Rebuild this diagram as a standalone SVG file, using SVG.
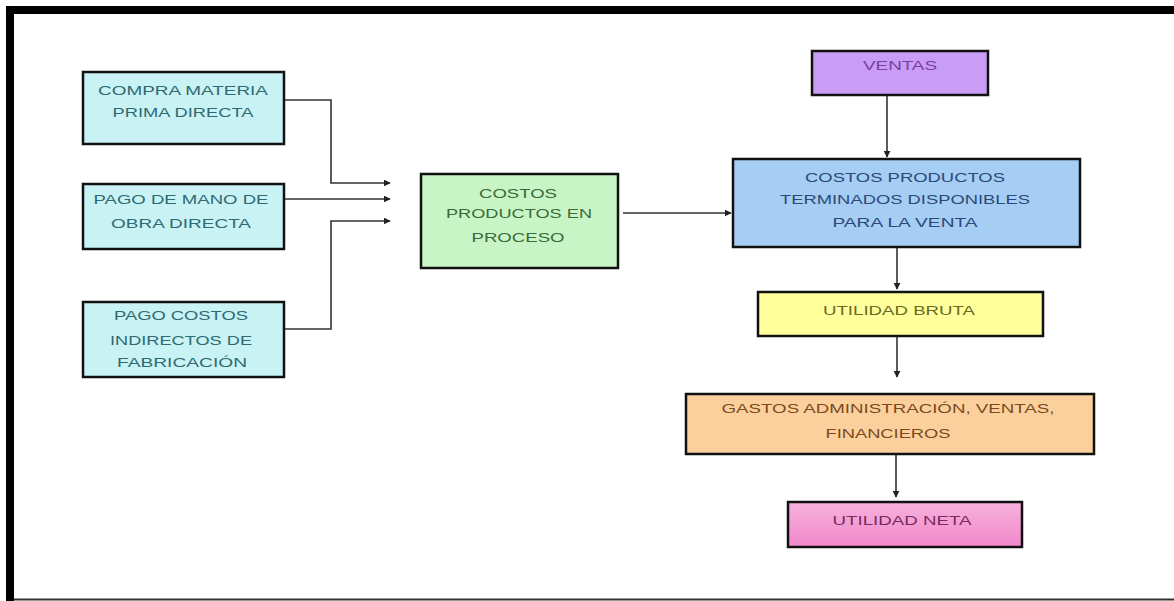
<svg xmlns="http://www.w3.org/2000/svg" width="1174" height="601" viewBox="0 0 1174 601">
<style>
.box{stroke:#111;stroke-width:2.5}
.t{font-family:"Liberation Sans",Arial,sans-serif;font-size:13px;text-anchor:middle}
.cn{fill:none;stroke:#333;stroke-width:1.6}
</style>
<defs>
<marker id="ah" viewBox="0 0 10 10" refX="9" refY="5" markerWidth="7" markerHeight="7" markerUnits="userSpaceOnUse" orient="auto">
<path d="M0,0 L10,5 L0,10 z" fill="#222"/>
</marker>
<linearGradient id="pink" x1="0" y1="0" x2="0" y2="1">
<stop offset="0" stop-color="#f6b2dd"/>
<stop offset="1" stop-color="#f287cb"/>
</linearGradient>
</defs>
<rect width="1174" height="601" fill="#fff"/>
<g id="frame">
<rect x="6" y="6" width="1168" height="8" fill="#000"/>
<rect x="6" y="6" width="8" height="595" fill="#000"/>
<line x1="14" y1="599.5" x2="1174" y2="599.5" stroke="#333" stroke-width="2"/>
</g>
<g id="connectors">
<path class="cn" d="M284,100 H331 V183 H390" marker-end="url(#ah)"/>
<path class="cn" d="M284,199 H390" marker-end="url(#ah)"/>
<path class="cn" d="M284,329 H331 V221 H390" marker-end="url(#ah)"/>
<path class="cn" d="M623,213 H731" marker-end="url(#ah)"/>
<path class="cn" d="M887,95 V157" marker-end="url(#ah)"/>
<path class="cn" d="M897,247 V289" marker-end="url(#ah)"/>
<path class="cn" d="M897,336 V377" marker-end="url(#ah)"/>
<path class="cn" d="M896,454 V497" marker-end="url(#ah)"/>
</g>
<g id="compra">
<rect class="box" x="83" y="72" width="201" height="72" fill="#c8f2f4"/>
<text class="t" fill="#2f6a72" x="183" y="95" textLength="170" lengthAdjust="spacingAndGlyphs">COMPRA MATERIA</text>
<text class="t" fill="#2f6a72" x="183" y="117" textLength="141" lengthAdjust="spacingAndGlyphs">PRIMA DIRECTA</text>
</g>
<g id="mano">
<rect class="box" x="83" y="184" width="201" height="65" fill="#c8f2f4"/>
<text class="t" fill="#2f6a72" x="181" y="204" textLength="175" lengthAdjust="spacingAndGlyphs">PAGO DE MANO DE</text>
<text class="t" fill="#2f6a72" x="181" y="228" textLength="140" lengthAdjust="spacingAndGlyphs">OBRA DIRECTA</text>
</g>
<g id="indirectos">
<rect class="box" x="83" y="302" width="201" height="75" fill="#c8f2f4"/>
<text class="t" fill="#2f6a72" x="181" y="320" textLength="134" lengthAdjust="spacingAndGlyphs">PAGO COSTOS</text>
<text class="t" fill="#2f6a72" x="181" y="345" textLength="142" lengthAdjust="spacingAndGlyphs">INDIRECTOS DE</text>
<text class="t" fill="#2f6a72" x="182" y="367" textLength="130" lengthAdjust="spacingAndGlyphs">FABRICACIÓN</text>
</g>
<g id="proceso">
<rect class="box" x="421" y="174" width="197" height="94" fill="#c9f5c6"/>
<text class="t" fill="#3a6a3a" x="518" y="198" textLength="78" lengthAdjust="spacingAndGlyphs">COSTOS</text>
<text class="t" fill="#3a6a3a" x="519" y="218" textLength="146" lengthAdjust="spacingAndGlyphs">PRODUCTOS EN</text>
<text class="t" fill="#3a6a3a" x="518" y="242" textLength="93" lengthAdjust="spacingAndGlyphs">PROCESO</text>
</g>
<g id="ventas">
<rect class="box" x="812" y="51" width="176" height="44" fill="#c99cf5"/>
<text class="t" fill="#7a3fa0" x="900" y="70" textLength="74" lengthAdjust="spacingAndGlyphs">VENTAS</text>
</g>
<g id="terminados">
<rect class="box" x="733" y="159" width="347" height="88" fill="#a6cdf4"/>
<text class="t" fill="#2c4a78" x="905" y="182" textLength="200" lengthAdjust="spacingAndGlyphs">COSTOS PRODUCTOS</text>
<text class="t" fill="#2c4a78" x="905" y="204" textLength="250" lengthAdjust="spacingAndGlyphs">TERMINADOS DISPONIBLES</text>
<text class="t" fill="#2c4a78" x="905" y="227" textLength="145" lengthAdjust="spacingAndGlyphs">PARA LA VENTA</text>
</g>
<g id="bruta">
<rect class="box" x="758" y="292" width="285" height="44" fill="#ffff9c"/>
<text class="t" fill="#6a6a22" x="899" y="315" textLength="152" lengthAdjust="spacingAndGlyphs">UTILIDAD BRUTA</text>
</g>
<g id="gastos">
<rect class="box" x="686" y="394" width="408" height="60" fill="#fcd09c"/>
<text class="t" fill="#7a4a22" x="888" y="413" textLength="333" lengthAdjust="spacingAndGlyphs">GASTOS ADMINISTRACIÓN, VENTAS,</text>
<text class="t" fill="#7a4a22" x="888" y="438" textLength="125" lengthAdjust="spacingAndGlyphs">FINANCIEROS</text>
</g>
<g id="neta">
<rect class="box" x="788" y="502" width="234" height="45" fill="url(#pink)"/>
<text class="t" fill="#7a2a5e" x="902" y="525" textLength="139" lengthAdjust="spacingAndGlyphs">UTILIDAD NETA</text>
</g>
</svg>
